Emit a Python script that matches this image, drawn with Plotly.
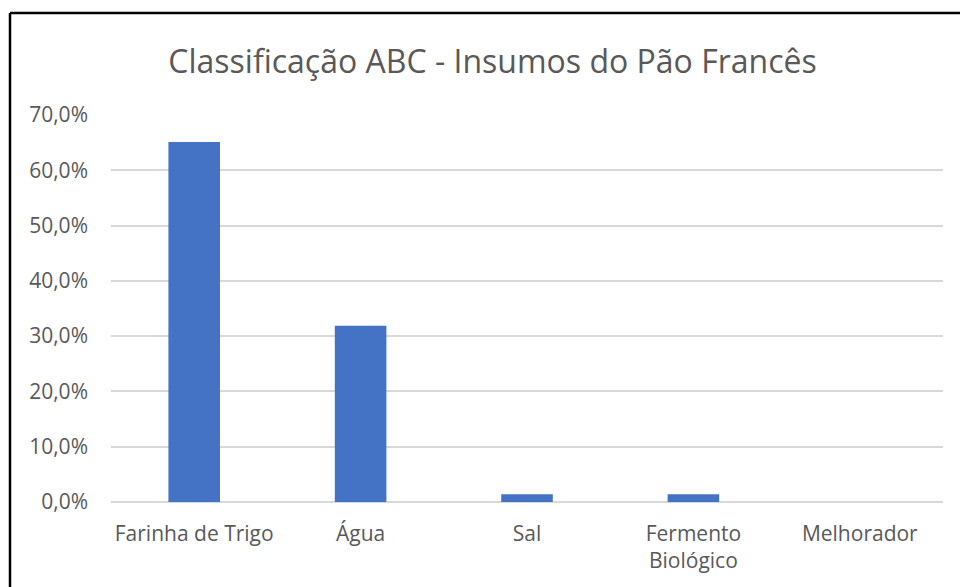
import plotly.graph_objects as go

categories = ["Farinha de Trigo", "Água", "Sal", "Fermento<br>Biológico", "Melhorador"]
values = [65.1, 31.9, 1.4, 1.4, 0.0]
y_ticks = [0, 10, 20, 30, 40, 50, 60, 70]
y_tick_labels = ["0,0%", "10,0%", "20,0%", "30,0%", "40,0%", "50,0%", "60,0%", "70,0%"]

W, H = 960, 587
L, R, T, B = 111, 17, 115, 85
pw, ph = W - L - R, H - T - B

def px_x(x):
    return (x - L) / pw

def px_y(y):
    return (H - B - y) / ph

fig = go.Figure(go.Bar(
    x=categories, y=values,
    marker=dict(color="#4472C4", line=dict(color="#4472C4", width=0)),
    width=0.31,
    hoverinfo="skip",
))

fig.update_layout(
    width=W, height=H,
    margin=dict(l=L, r=R, t=T, b=B),
    paper_bgcolor="white", plot_bgcolor="white",
    showlegend=False,
    font=dict(family="Open Sans", color="#595959"),
    title=dict(
        text="Classificação ABC - Insumos do Pão Francês",
        x=492.5 / W, xanchor="center", xref="container",
        y=1 - 62 / H, yanchor="middle", yref="container",
        font=dict(size=32, color="#595959", family="Open Sans"),
    ),
    xaxis=dict(
        showgrid=False, showline=False, zeroline=False,
        tickfont=dict(size=21, color="#595959"),
        ticks="", ticklabelstandoff=17,
    ),
    yaxis=dict(
        range=[0, 70], tickvals=y_ticks, ticktext=y_tick_labels,
        showgrid=True, gridcolor="#D9D9D9", gridwidth=1.5,
        zeroline=True, zerolinecolor="#D9D9D9", zerolinewidth=1.5,
        showline=False, ticks="",
        tickfont=dict(size=21, color="#595959"),
        ticklabelstandoff=22,
    ),
    shapes=[
        dict(type="line", xref="paper", yref="paper",
             x0=px_x(10), x1=px_x(10), y0=px_y(600), y1=px_y(13),
             line=dict(color="black", width=2.5)),
        dict(type="line", xref="paper", yref="paper",
             x0=px_x(10), x1=px_x(970), y0=px_y(13), y1=px_y(13),
             line=dict(color="black", width=2.5)),
    ],
    annotations=[
        dict(text="ç", xref="paper", yref="paper",
             x=px_x(387), y=px_y(-1), xanchor="center", yanchor="bottom",
             showarrow=False, font=dict(size=20, color="black", family="Open Sans")),
    ],
)

fig.write_html(
    "out.html",
    config={"displayModeBar": False},
    post_script="document.body.style.margin='0';document.body.style.overflow='hidden';",
)
